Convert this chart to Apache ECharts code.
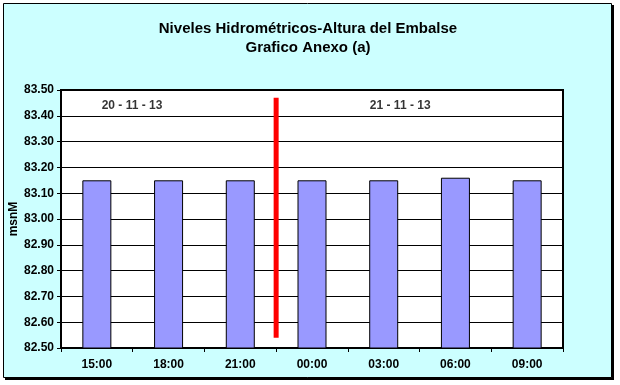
<!DOCTYPE html>
<html>
<head>
<meta charset="utf-8">
<script src="https://cdn.jsdelivr.net/npm/echarts@6/dist/echarts.min.js"></script>
<style>
html,body{margin:0;padding:0;background:#fff;}
#c{width:620px;height:385px;}
</style>
</head>
<body>
<div id="c"></div>
<script>
const categories = ['15:00','18:00','21:00','00:00','03:00','06:00','09:00'];
const levels = [83.15, 83.15, 83.15, 83.15, 83.15, 83.16, 83.15];
const dayLabels = ['20 - 11 - 13', '21 - 11 - 13'];
const dayLabelPos = [[0.99, 83.44], [4.73, 83.44]];
const dayDivider = [[3, 82.54], [3, 83.47]];
const yMin = 82.5, yMax = 83.5, yStep = 0.1;

const chart = echarts.init(document.getElementById('c'), null, {renderer:'canvas'});
const font = 'Liberation Sans, Arial, sans-serif';
chart.setOption({
  backgroundColor: '#ffffff',
  animation: false,
  graphic: {
    elements: [
      {type:'rect', z:-10, shape:{x:5, y:5, width:609, height:375}, style:{fill:'#000'}},
      {type:'rect', z:-9, shape:{x:3.5, y:3.5, width:608, height:374}, style:{fill:'#CCFFFF', stroke:'#000', lineWidth:1}}
    ]
  },
  title: {
    text: 'Niveles Hidrométricos-Altura del Embalse\nGrafico Anexo (a)',
    left: 303, top: 14, textAlign: 'center',
    textStyle: {fontFamily: font, fontSize: 15, fontWeight: 'bold', color:'#000', lineHeight: 19}
  },
  grid: {
    left: 61, right: 57, top: 90, bottom: 37,
    outerBoundsMode: 'none', containLabel: false,
    show: true, backgroundColor: '#fff', borderColor: '#000', borderWidth: 2
  },
  xAxis: [
    {
      type: 'category', data: categories, position: 'bottom',
      axisLine: {show: true, lineStyle: {color:'#000', width: 2}},
      axisTick: {show: true, length: 4, lineStyle:{color:'#000'}},
      axisLabel: {fontFamily: font, fontSize: 12, fontWeight: 'bold', color:'#000', margin: 11},
      splitLine: {show: false}
    },
    {
      type: 'value', min: 0, max: 7, show: false
    }
  ],
  yAxis: {
    type: 'value', min: yMin, max: yMax, interval: yStep,
    name: 'msnM', nameLocation: 'middle', nameGap: 41, nameRotate: 90, nameMoveOverlap: false,
    nameTextStyle: {fontFamily: font, fontSize: 12, fontWeight: 'bold', color:'#000'},
    axisLine: {show: true, lineStyle: {color:'#000', width: 2}},
    axisTick: {show: true, length: 4, lineStyle:{color:'#000'}},
    axisLabel: {fontFamily: font, fontSize: 12, fontWeight: 'bold', color:'#000', margin: 7,
      formatter: v => v.toFixed(2)},
    splitLine: {show: true, lineStyle: {color:'#000', width: 1}}
  },
  series: [
    {
      type: 'bar', data: levels, barWidth: 29,
      itemStyle: {color: '#9999FF', borderColor: '#000', borderWidth: 1}
    },
    {
      type: 'line', xAxisIndex: 1, data: dayDivider, symbol: 'none',
      lineStyle: {color: '#FF0000', width: 5}, z: 5
    },
    {
      type: 'scatter', xAxisIndex: 1, symbolSize: 0,
      data: dayLabelPos.map((p, i) => ({value: p, name: dayLabels[i]})),
      label: {show: true, position: 'inside', formatter: p => p.name,
        fontFamily: font, fontSize: 12, fontWeight: 'bold', color: '#000'}
    }
  ]
});
</script>
</body>
</html>
